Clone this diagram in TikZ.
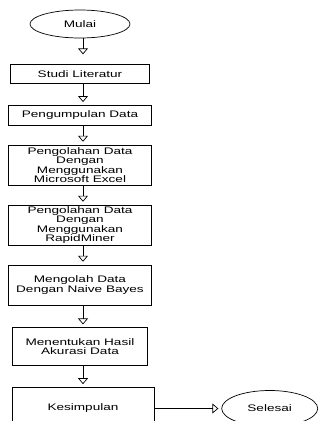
\documentclass[tikz,border=0pt]{standalone}
\usepackage{fontspec}
\setmainfont{Liberation Sans}[FakeStretch=1.43]
\usepackage{tikz}
\usetikzlibrary{shapes,arrows.meta}
\usetikzlibrary{positioning}
\tikzstyle{block} = [rectangle, draw, align=center, inner sep=0pt,
    minimum width=143pt, minimum height=40pt, font=\fontsize{9.5}{9.5}\selectfont]
\tikzstyle{terminal} = [ellipse, draw, inner sep=0pt,
    minimum width=100pt, minimum height=28pt, font=\fontsize{9.5}{9.5}\selectfont]
\tikzstyle{line} = [draw, -{Triangle[open, width=10pt, length=6pt]}, shorten >=3pt]

\begin{document}
\begin{tikzpicture}[x=1pt, y=1pt, node distance=20pt, line width=0.7pt]
  \clip (0,0) rectangle (320,-421);
  % Place nodes
  \node [terminal] (mulai) at (80,-24) {Mulai};
  \node [block, below=26pt of mulai, minimum width=139pt, minimum height=19pt] (studi) {Studi Literatur};
  \node [block, below=21pt of studi, minimum height=20pt] (kumpul) {Pengumpulan Data};
  \node [block, below=19pt of kumpul] (excel) {Pengolahan Data\\Dengan\\Menggunakan\\Microsoft Excel};
  \node [block, below of=excel, node distance=60pt] (rapid) {Pengolahan Data\\Dengan\\Menggunakan\\RapidMiner};
  \node [block, below of=rapid, node distance=60pt] (naive) {Mengolah Data\\Dengan Naive Bayes};
  \node [block, below=22pt of naive, minimum width=135pt, minimum height=38pt] (akurasi) {Menentukan Hasil\\Akurasi Data};
  \node [block, below=21pt of akurasi, xshift=3pt, minimum width=142pt, minimum height=42pt] (simpul) {Kesimpulan};
  \node [terminal, right=67pt of simpul, minimum width=96pt, minimum height=36pt] (selesai) {Selesai};
  % Draw edges
  \path [line, shorten >=10pt] ([xshift=3pt]mulai.south) -- ([xshift=3pt]studi.north);
  \path [line] ([xshift=3pt]studi.south) -- ([xshift=3pt]kumpul.north);
  \path [line] ([xshift=3pt]kumpul.south) -- ([xshift=3pt]excel.north);
  \path [line] ([xshift=3pt]excel.south) -- ([xshift=3pt]rapid.north);
  \path [line] ([xshift=3pt]rapid.south) -- ([xshift=3pt]naive.north);
  \path [line] ([xshift=3pt]naive.south) -- ([xshift=3pt]akurasi.north);
  \path [line] ([xshift=3pt]akurasi.south) -- (simpul.north);
  \path [line] (simpul.east) -- (selesai.west);
\end{tikzpicture}
\end{document}
